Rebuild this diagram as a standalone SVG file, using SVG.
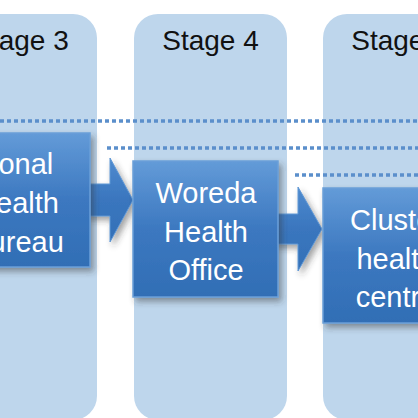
<svg xmlns="http://www.w3.org/2000/svg" width="418" height="418" viewBox="0 0 418 418">
  <style>
    .col { fill: #BED6EC; }
    .stage { font-family: "Liberation Sans", Arial, sans-serif; font-size: 28px; fill: #111111; text-anchor: middle; }
    .box { fill: url(#boxGrad); stroke: #6A9FD8; stroke-width: 1.5; filter: url(#shadow); }
    .arrow { fill: url(#arrowGrad); stroke: #5F97D4; stroke-width: 1; filter: url(#shadow); }
    .label { font-family: "Liberation Sans", Arial, sans-serif; font-size: 29px; fill: #FFFFFF; text-anchor: middle; }
    .dots { stroke: #5B8FCB; stroke-width: 3.5; stroke-dasharray: 4 3; fill: none; }
  </style>
  <defs>
    <linearGradient id="boxGrad" x1="0" y1="0" x2="0" y2="1">
      <stop offset="0" stop-color="#639BD8"/>
      <stop offset="0.5" stop-color="#3C78C0"/>
      <stop offset="1" stop-color="#316EB5"/>
    </linearGradient>
    <linearGradient id="arrowGrad" x1="0" y1="0" x2="0" y2="1">
      <stop offset="0" stop-color="#4F8BCF"/>
      <stop offset="0.5" stop-color="#3A76BE"/>
      <stop offset="1" stop-color="#3370B7"/>
    </linearGradient>
    <filter id="shadow" x="-20%" y="-20%" width="150%" height="150%">
      <feDropShadow dx="3" dy="4" stdDeviation="3" flood-color="#333333" flood-opacity="0.45"/>
    </filter>
  </defs>

  <rect width="418" height="418" fill="#FFFFFF"/>

  <g id="stage3">
    <rect class="col" x="-56" y="14" width="153" height="406" rx="24"/>
    <text class="stage" x="20.5" y="50">Stage 3</text>
  </g>
  <g id="stage4">
    <rect class="col" x="134" y="14" width="153" height="406" rx="24"/>
    <text class="stage" x="210.5" y="50">Stage 4</text>
  </g>
  <g id="stage5">
    <rect class="col" x="323" y="14" width="153" height="406" rx="24"/>
    <text class="stage" x="399.5" y="50">Stage 5</text>
  </g>

  <g id="connectors">
    <path class="arrow" d="M86,184 H110 V158 L133,200 L110,242 V216 H86 Z"/>
    <path class="arrow" d="M274,214 H298 V187 L322,229 L298,271 V244 H274 Z"/>
    <line class="dots" x1="0" y1="121" x2="418" y2="121"/>
    <line class="dots" x1="107" y1="148" x2="418" y2="148"/>
    <line class="dots" x1="295" y1="175" x2="418" y2="175"/>
  </g>

  <g id="zonal">
    <rect class="box" x="-55" y="133" width="145" height="134"/>
    <text class="label" x="17" y="174">Zonal</text>
    <text class="label" x="17" y="213">Health</text>
    <text class="label" x="17" y="252">Bureau</text>
  </g>
  <g id="woreda">
    <rect class="box" x="133" y="161" width="145" height="136"/>
    <text class="label" x="206" y="203">Woreda</text>
    <text class="label" x="206" y="242">Health</text>
    <text class="label" x="206" y="280">Office</text>
  </g>
  <g id="cluster">
    <rect class="box" x="323" y="188" width="145" height="135"/>
    <text class="label" x="396" y="230">Cluster</text>
    <text class="label" x="396" y="269">health</text>
    <text class="label" x="396" y="307">centre</text>
  </g>
</svg>
